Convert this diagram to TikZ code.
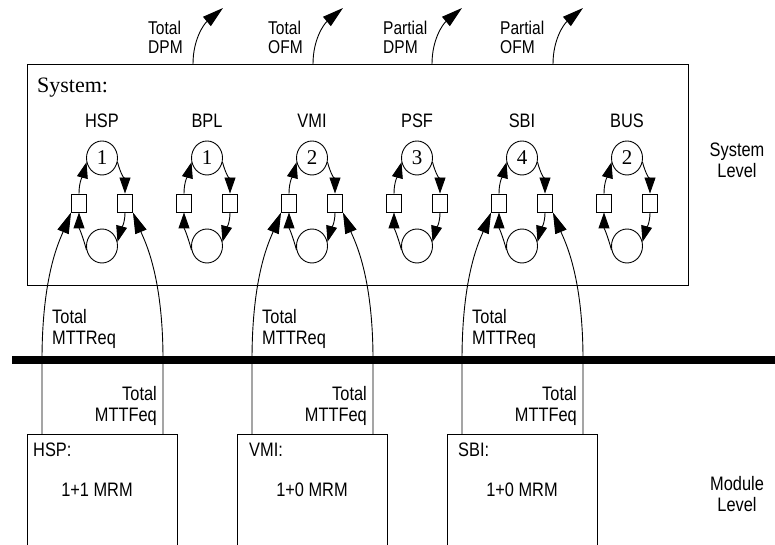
\documentclass[tikz,border=0pt]{standalone}
\usepackage{fontspec}
\setmainfont{Liberation Serif}
\newfontfamily\hv[FakeStretch=0.84]{Liberation Sans}
\usetikzlibrary{arrows.meta,shapes.geometric,calc}
\begin{document}
\begin{tikzpicture}[x=1pt,y=1pt,
  lbl/.style={font=\hv\fontsize{19.5}{21}\selectfont, inner sep=0pt},
  toplbl/.style={font=\hv\fontsize{18.5}{19}\selectfont, inner sep=0pt, align=left, anchor=base west},
  place/.style={draw, ellipse, minimum width=31pt, minimum height=34pt, inner sep=0pt, line width=0.9pt, font=\fontsize{21}{21}\selectfont},
  trans/.style={draw, rectangle, minimum width=15pt, minimum height=18pt, inner sep=0pt, line width=0.9pt},
  arc/.style={line width=0.9pt, -{Triangle[length=16pt,width=11pt]}},
  ext/.style={line width=0.9pt, -{Triangle[length=21pt,width=12pt]}},
  box/.style={draw, line width=0.9pt, anchor=north west, inner sep=0pt},
]
\useasboundingbox (0,0) rectangle (775,545);
% system box
\node[box, minimum width=661pt, minimum height=221pt] (sys) at (27,481) {};
\node[font=\fontsize{22}{22}\selectfont, inner sep=0pt, anchor=base west] (systxt) at (37,452) {System:};
% nets
\foreach \i/\cx/\nm/\k in {1/102/HSP/1, 2/207/BPL/1, 3/312/VMI/2, 4/417/PSF/3, 5/522/SBI/4, 6/627/BUS/2} {
  \node[lbl, anchor=base] (n\i) at (\cx,417) {\nm};
  \node[place] (t\i) at (\cx,387) {\k};
  \node[place] (b\i) at (\cx,299) {};
  \node[trans] (l\i) at (\cx-23,342) {};
  \node[trans] (r\i) at (\cx+23,342) {};
  \draw[arc] (l\i.north) to[out=90,in=-105] (t\i.195);
  \draw[arc] (t\i.-15) to[out=-75,in=90] (r\i.north);
  \draw[arc] (r\i.south) to[out=-90,in=75] (b\i.15);
  \draw[arc] (b\i.195) to[out=105,in=-90] (l\i.south);
}
% top outputs
\foreach \i/\sx/\lx/\a/\b in {1/193/148/Total/DPM, 2/313/268/Total/OFM, 3/432/383/Partial/DPM, 4/553/500/Partial/OFM} {
  \coordinate (s\i) at (\sx,481);
  \coordinate (o\i) at (\sx+30,537);
  \draw[ext] (s\i) to[out=90,in=-140] (o\i);
  \node[toplbl] (tl\i) at (\lx,491) {\a\\\b};
}
% level labels
\node[lbl, anchor=base, align=center] (slev) at (737,367) {System\\Level};
\node[lbl, anchor=base, align=center] (mlev) at (737,33) {Module\\Level};
% separator bar
\draw[line width=8pt] (12,185) -- (775,185);
% modules
\foreach \i/\cx/\nm/\m/\tx/\mx in {1/102/HSP/1+1/33/97, 3/312/VMI/1+0/249/312, 5/522/SBI/1+0/458/522} {
  \node[box, minimum width=150pt, minimum height=130pt] (m\i) at (\cx-75,111) {};
  \node[lbl, anchor=base west] (mh\i) at (\tx,88) {\nm:};
  \node[lbl, anchor=base] (mr\i) at (\mx,48) {\m\ MRM};
  \draw[ext] ([xshift=15pt]m\i.north west) -- ++(0,74) .. controls +(0,85) and +(-11.5,-28) .. (l\i.south west);
  \draw[ext] ([xshift=136pt]m\i.north west) -- ++(0,74) .. controls +(0,85) and +(11.5,-28) .. (r\i.south east);
  \node[lbl, anchor=base west, align=left] (rq\i) at (\cx-50,200) {Total\\MTTReq};
  \node[lbl, anchor=base east, align=right] (fq\i) at (\cx+55,123) {Total\\MTTFeq};
}
\end{tikzpicture}
\end{document}
